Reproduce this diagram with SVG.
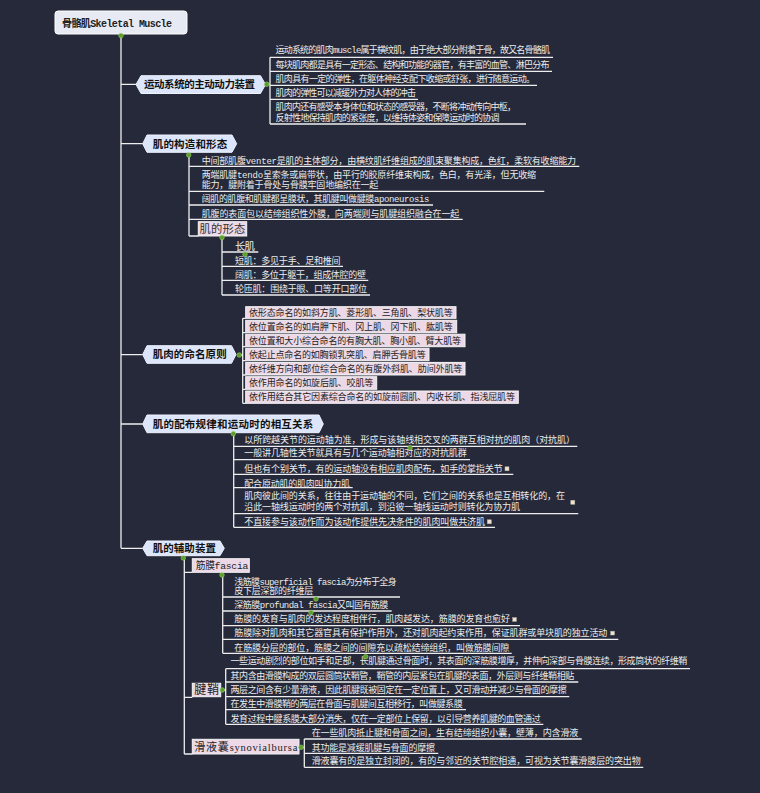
<svg xmlns="http://www.w3.org/2000/svg" width="760" height="793" viewBox="0 0 760 793">
<style>
.ln{stroke:#eeeeee;stroke-width:1.3;fill:none}
.t{font-family:"Liberation Mono","Noto Sans CJK SC",monospace;font-size:9px;fill:#ececec}
.pt{font-family:"Liberation Mono","Noto Sans CJK SC",monospace;font-size:9px;fill:#222222}
.hd{font-family:"Noto Sans CJK SC",sans-serif;font-weight:bold;font-size:10.5px;fill:#111111;text-anchor:middle}
.sec{fill:#dce5fa;stroke:#eef2fd;stroke-width:1}
.pk{fill:#ecd8e6;stroke:#f4f4f4;stroke-width:1}
.dot{fill:#5c9e2e;stroke:#93cc5a;stroke-width:0.6}
.note{fill:#ece4d4;stroke:#b8b0a0;stroke-width:0.5}
</style>
<rect width="760" height="793" fill="#252939"/>

<g id="connectors">
<path class="ln" d="M121,36V548.3M121,84.3H136M121,143.6H142.7M121,354.6H142.7M121,424H142.7M121,548.3H142.7"/>
<path class="ln" d="M266.7,84.3H270M270,57.3V124M270,57.3H553M270,71.3H552M270,85.3H537M270,99.3H418M270,124H526"/>
<path class="ln" d="M189,155V236M189,166.3H579.3M189,191.3H544.3M189,205H433M189,219.3H462.7M189,236H198.3"/>
<path class="ln" d="M222,237.5V295M222,252H258.3M222,266.3H343M222,280.3H368.3M222,295H370"/>
<path class="ln" d="M239.3,355H242.7M242.7,318.3V403.3M242.7,318.3H245.7M242.7,332.7H245.7M242.7,346.7H245.7M242.7,360.7H245.7M242.7,375H245.7M242.7,389.3H245.7M242.7,403.3H245.7"/>
<path class="ln" d="M233.7,434V527.3M233.7,446.3H577.3M233.7,459.7H470M233.7,474.3H513.3M233.7,487.7H352.7M233.7,513.7H578.3M233.7,527.3H495"/>
<path class="ln" d="M184.3,558V754M184.3,572.3H192.3M184.3,697.3H192.3M184.3,754H192.3"/>
<path class="ln" d="M222.7,575V653.3M222.7,597H400M222.7,611H391.7M222.7,625.7H520M222.7,639.3H618.3M222.7,653.3H511.7"/>
<path class="ln" d="M222.3,690H225.7M225.7,668.7V724.3M225.7,668.7H690M225.7,682H578.3M225.7,696.7H569.3M225.7,709.7H466M225.7,724.3H543.3"/>
<path class="ln" d="M301,747.3H304.3M304.3,739V767.3M304.3,739H581.7M304.3,753.3H438.3M304.3,767.3H643.3"/>
</g>

<g id="root">
<rect x="55" y="11" width="132" height="23" rx="3" fill="#e8eaf3" stroke="#ffffff" stroke-width="1"/>
<text x="62" y="26.5" font-family="Liberation Mono,Noto Sans CJK SC,monospace" font-weight="bold" font-size="10" fill="#222" textLength="110">骨骼肌Skeletal Muscle</text>
</g>

<g id="sec1">
<polygon class="sec" points="136,84.5 141,75.7 260.5,75.7 265.5,84.5 260.5,93.5 141,93.5"/>
<text class="hd" x="199.5" y="88.2" textLength="111">运动系统的主动动力装置</text>
<text class="t" x="275.5" y="52.9" textLength="274.5">运动系统的肌肉muscle属于横纹肌，由于绝大部分附着于骨，故又名骨骼肌</text>
<text class="t" x="275.5" y="68.2" textLength="274">每块肌肉都是具有一定形态、结构和功能的器官，有丰富的血管、淋巴分布</text>
<text class="t" x="275.5" y="81.5" textLength="259.5">肌肉具有一定的弹性，在躯体神经支配下收缩或舒张，进行随意运动。</text>
<text class="t" x="275.5" y="96.2" textLength="140.5">肌肉的弹性可以减缓外力对人体的冲击</text>
<text class="t" x="275.5" y="110.2" textLength="240.5">肌肉内还有感受本身体位和状态的感受器，不断将冲动传向中枢，</text>
<text class="t" x="275.5" y="120.9" textLength="224">反射性地保持肌肉的紧张度，以维持体姿和保障运动时的协调</text>
</g>

<g id="sec2">
<polygon class="sec" points="142.7,143.7 147,135 232,135 236.7,143.7 232,152.3 147,152.3"/>
<text class="hd" x="190" y="147.6" textLength="74.6">肌的构造和形态</text>
<text class="t" x="201.7" y="164.2" textLength="374.3">中间部肌腹venter是肌的主体部分，由横纹肌纤维组成的肌束聚集构成，色红，柔软有收缩能力</text>
<text class="t" x="201.7" y="178.2" textLength="334.3">两端肌腱tendo呈索条或扁带状，由平行的胶原纤维束构成，色白，有光泽，但无收缩</text>
<text class="t" x="201.7" y="188.2" textLength="176.6">能力，腱附着于骨处与骨膜牢固地编织在一起</text>
<text class="t" x="201.7" y="202.2" textLength="227.6">阔肌的肌腹和肌腱都呈膜状，其肌腱叫做腱膜aponeurosis</text>
<text class="t" x="201.7" y="216.9" textLength="257.6">肌腹的表面包以结缔组织性外膜，向两端则与肌腱组织融合在一起</text>
</g>

<g id="shape">
<rect class="pk" x="198.3" y="221.7" width="48.4" height="14.3"/>
<text x="199.5" y="232.8" font-family="Noto Sans CJK SC,sans-serif" font-size="11.3" fill="#333" textLength="45.7">肌的形态</text>
<text x="235" y="249.5" font-family="Noto Sans CJK SC,sans-serif" font-size="10.5" fill="#f0f0f0" textLength="20">长肌</text>
<text class="t" x="235" y="264.2" textLength="105.5">短肌：多见于手、足和椎间</text>
<text class="t" x="235" y="278.2" textLength="131">阔肌：多位于躯干，组成体腔的壁</text>
<text class="t" x="235" y="292.2" textLength="132">轮匝肌：围绕于眼、口等开口部位</text>
</g>

<g id="sec3">
<polygon class="sec" points="142.7,354.5 147,345.7 231.5,345.7 236,354.5 231.5,363.3 147,363.3"/>
<text class="hd" x="189.7" y="358.3" textLength="74">肌肉的命名原则</text>
<rect class="pk" x="245.7" y="306.7" width="210.3" height="11.6"/>
<text class="pt" x="249" y="315.7" textLength="203.7">依形态命名的如斜方肌、菱形肌、三角肌、梨状肌等</text>
<rect class="pk" x="245.7" y="320.3" width="211" height="12.4"/>
<text class="pt" x="249" y="329.5" textLength="203.7">依位置命名的如肩胛下肌、冈上肌、冈下肌、肱肌等</text>
<rect class="pk" x="245.7" y="334.2" width="219.3" height="12.5"/>
<text class="pt" x="249" y="343.5" textLength="212">依位置和大小综合命名的有胸大肌、胸小肌、臂大肌等</text>
<rect class="pk" x="245.7" y="348.3" width="183.3" height="12.4"/>
<text class="pt" x="249" y="357.7" textLength="176.7">依起止点命名的如胸锁乳突肌、肩胛舌骨肌等</text>
<rect class="pk" x="245.7" y="362.4" width="219.3" height="12.6"/>
<text class="pt" x="249" y="371.8" textLength="213.3">依纤维方向和部位综合命名的有腹外斜肌、肋间外肌等</text>
<rect class="pk" x="245.7" y="376.7" width="131" height="12.6"/>
<text class="pt" x="249" y="386.2" textLength="124.3">依作用命名的如旋后肌、咬肌等</text>
<rect class="pk" x="245.7" y="391" width="272.6" height="12.3"/>
<text class="pt" x="249" y="400.4" textLength="266">依作用结合其它因素综合命名的如旋前圆肌、内收长肌、指浅屈肌等</text>
</g>

<g id="sec4">
<polygon class="sec" points="142.7,424 147,415 319,415 323.3,424 319,432.7 147,432.7"/>
<text class="hd" x="233" y="427.8" textLength="160.6">肌的配布规律和运动时的相互关系</text>
<text class="t" x="244.3" y="442.5" textLength="330.7">以所跨越关节的运动轴为准，形成与该轴线相交叉的两群互相对抗的肌肉（对抗肌）</text>
<text class="t" x="244.3" y="455.9" textLength="222.4">一般讲几轴性关节就具有与几个运动轴相对应的对抗肌群</text>
<text class="t" x="244.3" y="471.5" textLength="258.4">但也有个别关节，有的运动轴没有相应肌肉配布，如手的掌指关节</text>
<rect class="note" x="505" y="466.8" width="4" height="4"/>
<text class="t" x="244.3" y="486.5" textLength="105.7">配合原动肌的肌肉叫协力肌</text>
<text class="t" x="244.3" y="499.2" textLength="320.7">肌肉彼此间的关系，往往由于运动轴的不同，它们之间的关系也是互相转化的，在</text>
<text class="t" x="244.3" y="510.2" textLength="275.7">沿此一轴线运动时的两个对抗肌，到沿彼一轴线运动时则转化为协力肌</text>
<rect class="note" x="570.8" y="500.3" width="4" height="4"/>
<text class="t" x="244.3" y="524.9" textLength="240.7">不直接参与该动作而为该动作提供先决条件的肌肉叫做共济肌</text>
<rect class="note" x="487.3" y="519.8" width="4" height="4"/>
</g>

<g id="sec5">
<polygon class="sec" points="142.7,548.3 147,541 220,541 224.3,548.3 220,555.7 147,555.7"/>
<text class="hd" x="184.3" y="552.1" textLength="63.3">肌的辅助装置</text>
</g>

<g id="fascia">
<rect class="pk" x="192.3" y="558.7" width="57" height="13.6"/>
<text x="195.7" y="568.9" font-family="Liberation Mono,Noto Sans CJK SC,monospace" font-size="9.7" fill="#222" textLength="52.6">筋膜fascia</text>
<text class="t" x="234.3" y="584.9" textLength="162.4">浅筋膜superficial fascia为分布于全身</text>
<text class="t" x="234.3" y="594.2" textLength="79">皮下层深部的纤维层</text>
<text class="t" x="234.3" y="607.5" textLength="154">深筋膜profundal fascia又叫固有筋膜</text>
<text class="t" x="234.3" y="622.2" textLength="275.7">筋膜的发育与肌肉的发达程度相伴行，肌肉越发达，筋膜的发育也愈好</text>
<rect class="note" x="512.7" y="617.6" width="3.8" height="3.8"/>
<text class="t" x="234.3" y="635.5" textLength="373">筋膜除对肌肉和其它器官具有保护作用外，还对肌肉起约束作用，保证肌群或单块肌的独立活动</text>
<rect class="note" x="610.7" y="631.2" width="3.8" height="3.8"/>
<text class="t" x="234.3" y="650.9" textLength="275">在筋膜分层的部位，筋膜之间的间隙充以疏松结缔组织，叫做筋膜间隙</text>
</g>

<g id="tendon-sheath">
<rect class="pk" x="192.3" y="683.3" width="28.4" height="13.4"/>
<text x="194.3" y="694.2" font-family="Noto Sans CJK SC,sans-serif" font-size="12" fill="#222" textLength="24.7">腱鞘</text>
<text class="t" x="230.5" y="664.2" textLength="456.8">一些运动剧烈的部位如手和足部，长肌腱通过骨面时，其表面的深筋膜增厚，并伸向深部与骨膜连续，形成筒状的纤维鞘</text>
<text class="t" x="230.5" y="678.9" textLength="343.8">其内含由滑膜构成的双层圆筒状鞘管，鞘管的内层紧包在肌腱的表面，外层则与纤维鞘相贴</text>
<text class="t" x="230.5" y="692.5" textLength="336.2">两层之间含有少量滑液，因此肌腱既被固定在一定位置上，又可滑动并减少与骨面的摩擦</text>
<text class="t" x="230.5" y="707.2" textLength="232.2">在发生中滑膜鞘的两层在骨面与肌腱间互相移行，叫做腱系膜</text>
<text class="t" x="230.5" y="721.5" textLength="310.2">发育过程中腱系膜大部分消失，仅在一定部位上保留，以引导营养肌腱的血管通过</text>
</g>

<g id="bursa">
<rect class="pk" x="192.3" y="739.3" width="106.7" height="14.7"/>
<text x="194.3" y="750.8" font-family="Noto Sans CJK SC,sans-serif" font-size="11" fill="#222" textLength="103">滑液囊<tspan font-family="Liberation Serif,serif" font-size="10.5">synovialbursa</tspan></text>
<text class="t" x="311.7" y="735.5" textLength="266.6">在一些肌肉抵止腱和骨面之间，生有结缔组织小囊，壁薄，内含滑液</text>
<text class="t" x="311.7" y="750.5" textLength="123.3">其功能是减缓肌腱与骨面的摩擦</text>
<text class="t" x="311.7" y="764.2" textLength="329">滑液囊有的是独立封闭的，有的与邻近的关节腔相通，可视为关节囊滑膜层的突出物</text>
</g>

<g id="markers">
<circle class="dot" cx="121" cy="35.6" r="2.3"/>
<circle class="dot" cx="266.7" cy="84.3" r="2.3"/>
<circle class="dot" cx="188.7" cy="155" r="2.3"/>
<circle class="dot" cx="222" cy="237.5" r="2.3"/>
<circle class="dot" cx="245" cy="254.3" r="2.3"/>
<circle class="dot" cx="239.3" cy="355" r="2.3"/>
<circle class="dot" cx="233.3" cy="433.7" r="2.3"/>
<circle class="dot" cx="410" cy="447.7" r="2.3"/>
<circle class="dot" cx="183.3" cy="558" r="2.3"/>
<circle class="dot" cx="222" cy="575" r="2.3"/>
<circle class="dot" cx="316" cy="599" r="2.3"/>
<circle class="dot" cx="311" cy="612.5" r="2.3"/>
<circle class="dot" cx="365.7" cy="656.7" r="2.3"/>
<circle class="dot" cx="222.3" cy="690" r="2.3"/>
<circle class="dot" cx="301" cy="747.3" r="2.3"/>
</g>
</svg>
